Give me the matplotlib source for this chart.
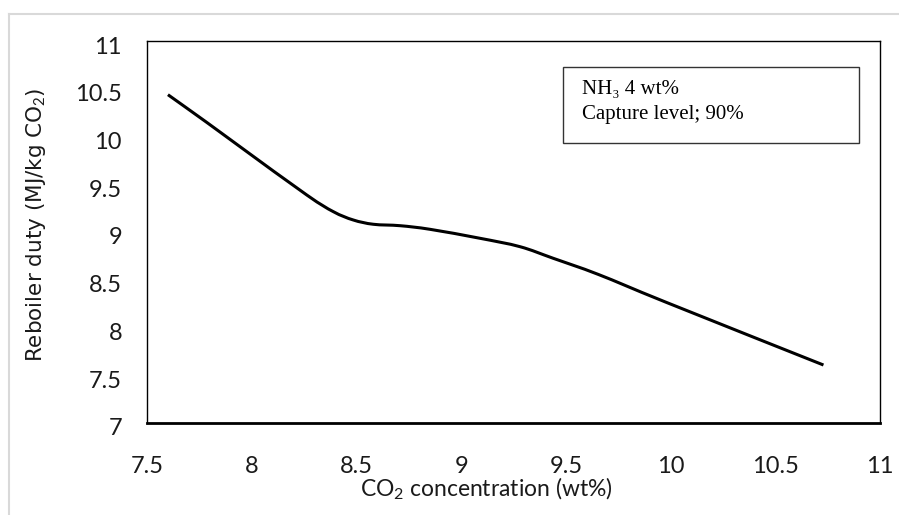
import numpy as np
import matplotlib.pyplot as plt
from matplotlib.patches import Rectangle, PathPatch
from matplotlib.path import Path
from matplotlib.lines import Line2D
from matplotlib.transforms import ScaledTranslation

plt.rcParams['mathtext.fontset'] = 'custom'
plt.rcParams['mathtext.rm'] = 'Lato'
plt.rcParams['mathtext.it'] = 'Lato'

# values
co2_conc = [7.60, 7.785, 7.944, 8.263, 8.39, 8.485, 8.581, 8.709,
            8.852, 9.09, 9.281, 9.44, 9.655, 9.982, 10.73]
reboiler_duty = [10.44, 10.15, 9.895, 9.388, 9.213, 9.126, 9.081, 9.066,
                 9.028, 8.934, 8.846, 8.724, 8.555, 8.26, 7.605]

x_ticks = [7.5, 8, 8.5, 9, 9.5, 10, 10.5, 11]
x_tick_labels = ['7.5', '8', '8.5', '9', '9.5', '10', '10.5', '11']
y_ticks = [7, 7.5, 8, 8.5, 9, 9.5, 10, 10.5, 11]
y_tick_labels = ['7', '7.5', '8', '8.5', '9', '9.5', '10', '10.5', '11']

W, H = 899, 515
fig = plt.figure(figsize=(W / 100, H / 100), dpi=100)
ax = fig.add_axes([147 / W, 1 - 422.7 / H, (880 - 147) / W, (422.7 - 41.3) / H])

# smoothed line like a spreadsheet "smooth line" (bezier through the points)
pts = np.column_stack([co2_conc, reboiler_duty])
verts = [pts[0]]
codes = [Path.MOVETO]
n = len(pts)
for i in range(n - 1):
    p0 = pts[i - 1] if i > 0 else pts[i]
    p1, p2 = pts[i], pts[i + 1]
    p3 = pts[i + 2] if i + 2 < n else pts[i + 1]
    c1 = p1 + (p2 - p0) / 6
    c2 = p2 - (p3 - p1) / 6
    verts += [c1, c2, p2]
    codes += [Path.CURVE4] * 3
ax.add_patch(PathPatch(Path(verts, codes), fill=False, ec='black', lw=2.2,
                       capstyle='butt'))

ax.set_xlim(7.5, 11)
ax.set_ylim(7, 11)
ax.set_xticks(x_ticks)
ax.set_xticklabels(x_tick_labels)
ax.set_yticks(y_ticks)
ax.set_yticklabels(y_tick_labels)
ax.tick_params(axis='x', length=0, pad=24, labelsize=17)
ax.tick_params(axis='y', length=0, pad=18, labelsize=17)
shift = ScaledTranslation(0, -4 / 100, fig.dpi_scale_trans)
for lbl in ax.get_xticklabels() + ax.get_yticklabels():
    lbl.set_fontfamily('Lato')
    lbl.set_color('#1a1a1a')
for lbl in ax.get_yticklabels():
    lbl.set_transform(lbl.get_transform() + shift)

for side in ['top', 'left', 'right']:
    ax.spines[side].set_linewidth(1.0)
ax.spines['bottom'].set_linewidth(2.0)

fig.text(486 / W, 1 - 489 / H, r'CO$_2$ concentration (wt%)', fontsize=16.5,
         family='Lato', ha='center', va='center', color='#1a1a1a')
fig.text(36 / W, 1 - 225 / H, r'Reboiler duty (MJ/kg CO$_2$)', fontsize=15.5,
         family='DejaVu Sans', rotation=90, ha='center', va='center', color='#1a1a1a')

# annotation box
box = Rectangle((563 / W, 1 - 143 / H), (859 - 563) / W, (143 - 67) / H,
                transform=fig.transFigure, fill=False, ec='#333333', lw=1.0)
fig.add_artist(box)
fig.text(582 / W, 1 - 90 / H, 'NH\u2083 4 wt%', fontsize=15,
         family=['Liberation Serif', 'DejaVu Serif'], ha='left', va='center')
fig.text(582 / W, 1 - 115 / H, 'Capture level; 90%', fontsize=15,
         family='Liberation Serif', ha='left', va='center')

# outer chart-area border
fig.add_artist(Line2D([9 / W, 9 / W], [0, 1 - 14 / H], transform=fig.transFigure,
                      color='#d9d9d9', lw=1.5))
fig.add_artist(Line2D([9 / W, 1], [1 - 14 / H, 1 - 14 / H], transform=fig.transFigure,
                      color='#d9d9d9', lw=1.5))

fig.savefig('out.png', dpi=100)
